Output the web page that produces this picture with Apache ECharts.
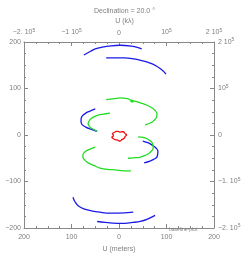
<!DOCTYPE html>
<html><head><meta charset="utf-8">
<script src="https://cdn.jsdelivr.net/npm/echarts@6/dist/echarts.min.js"></script>
<style>html,body{margin:0;padding:0;background:#fff}#c{width:249px;height:253px}</style>
</head><body><div id="c"></div>
<script>
// U,V in meters
const blueA = [[-74,172],[-60,180],[-50,185],[-35,189],[-23,191],[2,193],[27,191],[40,188],[48,185]];
const blueB = [[-27,166],[12,166],[44,161],[70,153],[88,142],[99,131]];
const blueC = [[-50,56],[-62,51],[-70,47],[-78,40],[-80,32],[-79,24],[-70,17],[-58,12],[-46,8]];
const blueD = [[50,-13],[62,-17],[70,-22],[78,-28],[82,-35],[80,-47],[72,-53],[65,-56],[53,-60]];
const blueE = [[-97,-134],[-93,-143],[-86,-152],[-74,-159],[-58,-163],[-40,-166],[-20,-168],[-2,-168],[30,-166]];
const blueF = [[-46,-186],[-30,-188],[-19,-189],[5,-190],[29,-188],[45,-186],[60,-181],[76,-173]];
const greenG1 = [[-27,76],[-10,78],[2,80],[18,78],[25,75],[30,74],[28,71],[24,73],[32,73],[45,69],[59,64],[70,58],[76,53],[80,45],[79,38],[70,28],[55,22]];
const greenG2 = [[-19,47],[-32,45],[-44,43],[-55,38],[-61,33],[-65,24],[-62,18],[-59,15],[-46,8]];
const greenG3 = [[40,-4],[50,-5],[59,-8],[66,-13],[70,-17],[72,-28],[68,-35],[61,-41],[52,-45],[44,-48],[30,-49],[19,-50]];
const greenG4 = [[-50,-26],[-60,-30],[-70,-35],[-76,-43],[-76,-48],[-72,-54],[-65,-60],[-52,-66],[-40,-71],[-24,-74],[-8,-75],[10,-77],[25,-77]];
const redLoop = [[-10,5],[-6,8],[-2,8],[2,6],[6,7],[9,7],[13,3],[16,0],[13,-3],[11,-7],[6,-10],[2,-13],[-3,-11],[-8,-10],[-13,-7],[-15,-5],[-12,-2],[-12,0],[-14,3],[-10,5]];
const meterTicks = [-200,-100,0,100,200];
const klTicksTop = ['−2. 10{s|5}','−1 10{s|5}','0','10{s|5}','2 10{s|5}'];
const klTicksRight = ['−2. 10{s|5}','−1. 10{s|5}','0','10{s|5}','2 10{s|5}'];
const titleText = 'Declination = 20.0 °';

const gray = '#808080';
const ff = 'Liberation Sans';
const lab = {color: gray, fontSize: 7, fontFamily: ff, rich: {s: {fontSize: 5, color: gray, fontFamily: ff, verticalAlign: 'top', padding: [0,0,4,0]}}};
function line(data, color) {
  return {type: 'line', data: data, showSymbol: false, smooth: 0.4, lineStyle: {color: color, width: 1.3}, xAxisIndex: 0, yAxisIndex: 0, silent: true, animation: false};
}
const axisCommon = {
  axisLine: {show: true, onZero: false, lineStyle: {color: '#888', width: 1}},
  axisTick: {show: true, inside: true, length: 4, lineStyle: {color: '#888'}},
  minorTick: {show: true, splitNumber: 4, length: 2, lineStyle: {color: '#888'}},
  splitLine: {show: false}
};
const tstyle = {fontSize: 7, color: gray, fontWeight: 'normal', fontFamily: ff};
const chart = echarts.init(document.getElementById('c'), null, {renderer: 'canvas'});
chart.setOption({
  animation: false,
  title: [
    {text: titleText, left: 'center', top: 3, textStyle: tstyle},
    {text: 'U (kλ)', left: 'center', top: 13, textStyle: tstyle},
    {text: 'baseline-plot', left: 164, top: 222, textStyle: Object.assign({}, tstyle, {fontSize: 5})}
  ],
  grid: {left: 24, right: 35, top: 42, bottom: 25, containLabel: false, outerBoundsMode: 'none'},
  xAxis: [
    Object.assign({type: 'value', position: 'bottom', min: -200, max: 200, interval: 100,
      name: 'U (meters)', nameLocation: 'middle', nameGap: 16, nameTextStyle: tstyle,
      axisLabel: Object.assign({margin: 6, formatter: v => String(Math.abs(v))}, lab)}, axisCommon),
    Object.assign({type: 'value', position: 'top', min: -200000, max: 200000, interval: 100000,
      axisLabel: Object.assign({margin: 5, formatter: v => klTicksTop[Math.round(v/100000)+2]}, lab)}, axisCommon)
  ],
  yAxis: [
    Object.assign({type: 'value', position: 'left', min: -200, max: 200, interval: 100,
      name: 'V (meters)', nameLocation: 'middle', nameGap: 15, nameRotate: 90, nameTextStyle: tstyle,
      axisLabel: Object.assign({margin: 3, formatter: v => v < 0 ? '−' + Math.abs(v) : String(v)}, lab)}, axisCommon),
    Object.assign({type: 'value', position: 'right', min: -200000, max: 200000, interval: 100000,
      name: 'V (kλ)', nameLocation: 'middle', nameGap: 14, nameRotate: 90, nameTextStyle: tstyle,
      axisLabel: Object.assign({margin: 4, formatter: v => klTicksRight[Math.round(v/100000)+2]}, lab)}, axisCommon)
  ],
  series: [
    line(blueA, '#1a1ae6'), line(blueB, '#1a1ae6'), line(blueC, '#1a1ae6'), line(blueD, '#1a1ae6'), line(blueE, '#1a1ae6'), line(blueF, '#1a1ae6'),
    line(greenG1, '#22dd22'), line(greenG2, '#22dd22'), line(greenG3, '#22dd22'), line(greenG4, '#22dd22'),
    line(redLoop, '#ee1111')
  ]
});
</script></body></html>
